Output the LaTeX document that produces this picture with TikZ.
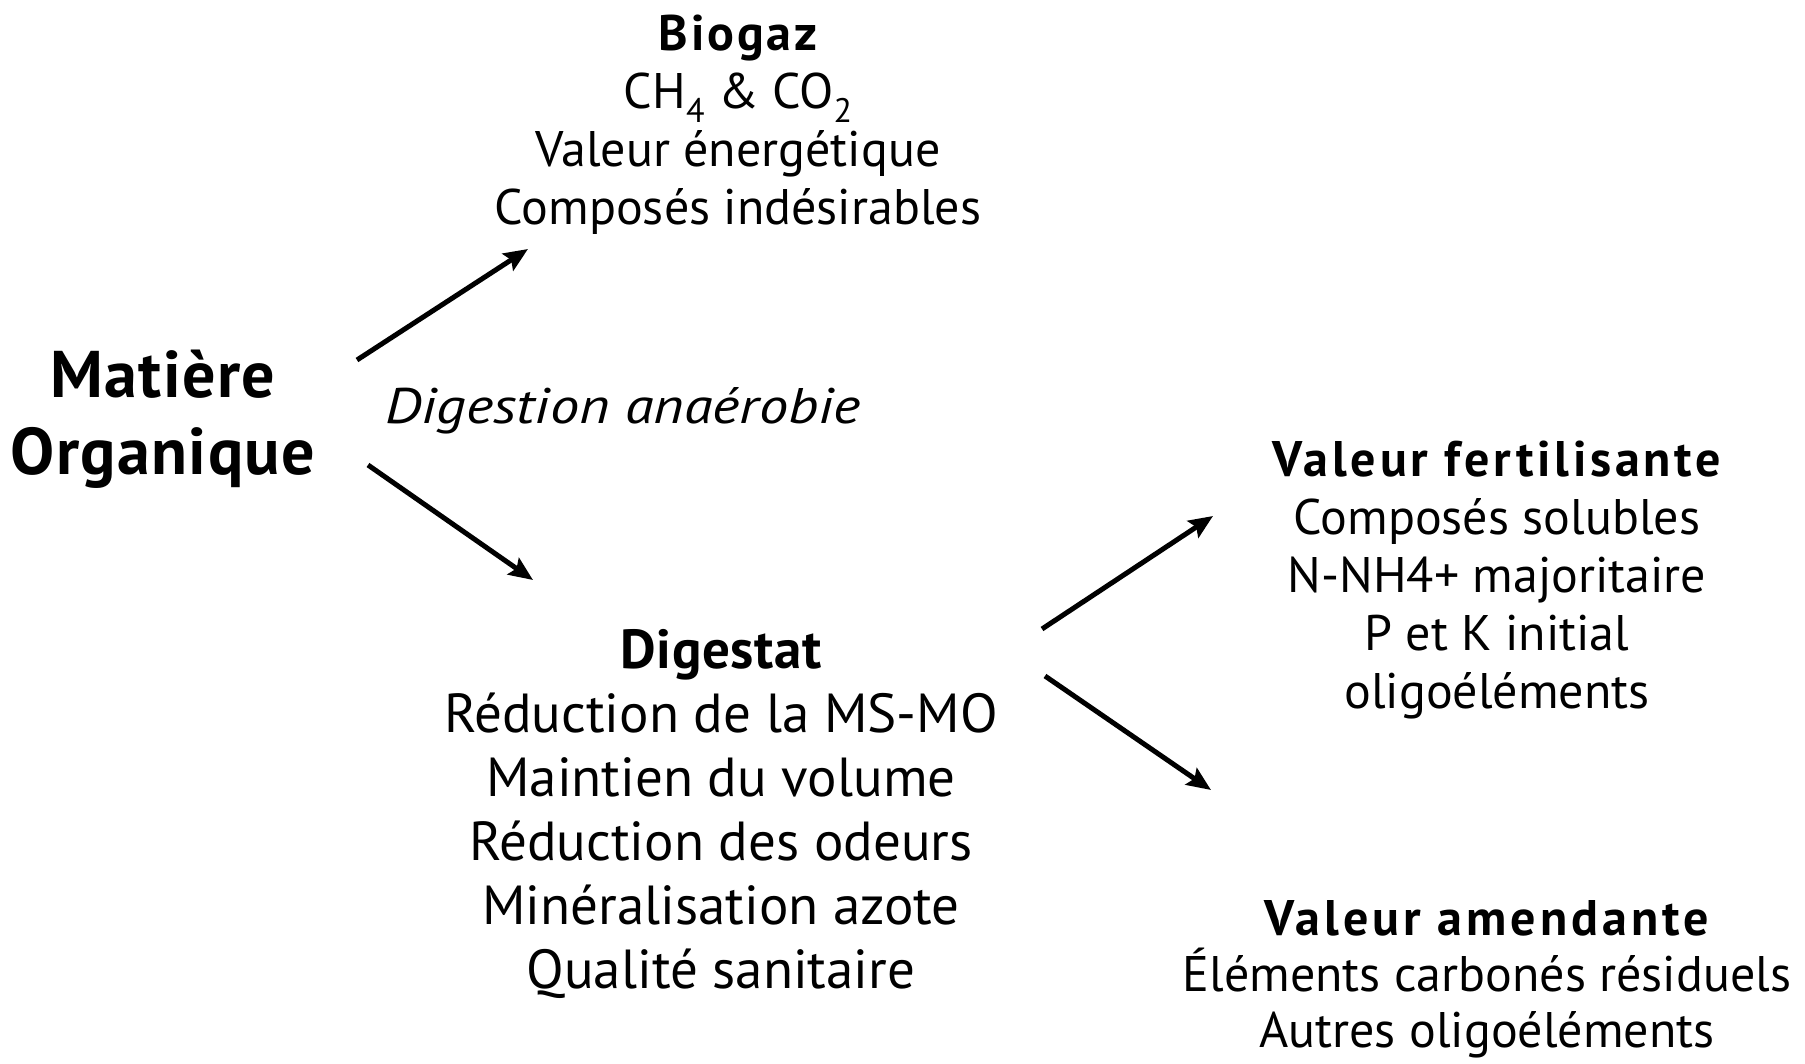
\documentclass[tikz,border=0pt]{standalone}
\usepackage{fontspec}
\setmainfont{PT Sans}
\usetikzlibrary{arrows.meta}
\newcommand{\sbs}[1]{\raisebox{-0.28em}{\fontsize{34}{34}\selectfont #1}}
\newcommand{\ttl}[2]{{\bfseries\addfontfeature{LetterSpace=#1}#2}}
\tikzset{
  blk/.style={align=center, inner sep=0pt, anchor=north},
  small/.style={font={\fontsize{50}{58}\selectfont}},
  tight/.style={font={\fontsize{50}{56}\selectfont}},
  mid/.style={font={\fontsize{55}{64}\selectfont}},
  big/.style={font={\bfseries\fontsize{66}{77}\selectfont}},
  arr/.style={line width=5pt, -{Stealth[length=24pt, width=20pt, inset=4pt]}},
}
\begin{document}
\begin{tikzpicture}[x=1pt, y=-1pt]
\useasboundingbox (0,0) rectangle (1805,1064);
\node[blk, small] (bio) at (738,15) {\ttl{5.5}{Biogaz}\\CH\sbs{4} \& CO\sbs{2}\\Valeur énergétique\\Composés indésirables};
\node[blk, big] (mo) at (163,350) {\addfontfeature{LetterSpace=2}Matière\\\addfontfeature{LetterSpace=2}Organique};
\node[blk, font={\itshape\fontsize{50}{58}\selectfont}] (da) at (623,387) {\scalebox{1.17}[1]{Digestion anaérobie}};
\node[blk, mid] (dig) at (721,629) {\ttl{1}{Digestat}\\Réduction de la MS-MO\\Maintien du volume\\Réduction des odeurs\\Minéralisation azote\\Qualité sanitaire};
\node[blk, small] (fert) at (1497,441) {\ttl{7.5}{Valeur fertilisante}\\Composés solubles\\N-NH4+ majoritaire\\P et K initial\\oligoéléments};
\node[blk, tight] (amen) at (1487,900) {\ttl{8}{Valeur amendante}\\Éléments carbonés résiduels\\Autres oligoéléments};
\coordinate (a1s) at (357,360);
\coordinate (a1e) at (528,249);
\coordinate (a2s) at (368,465);
\coordinate (a2e) at (533,580);
\coordinate (a3s) at (1042,629);
\coordinate (a3e) at (1213,516);
\coordinate (a4s) at (1045,676);
\coordinate (a4e) at (1211,790);
\draw[arr] (a1s) -- (a1e);
\draw[arr] (a2s) -- (a2e);
\draw[arr] (a3s) -- (a3e);
\draw[arr] (a4s) -- (a4e);
\end{tikzpicture}
\end{document}
